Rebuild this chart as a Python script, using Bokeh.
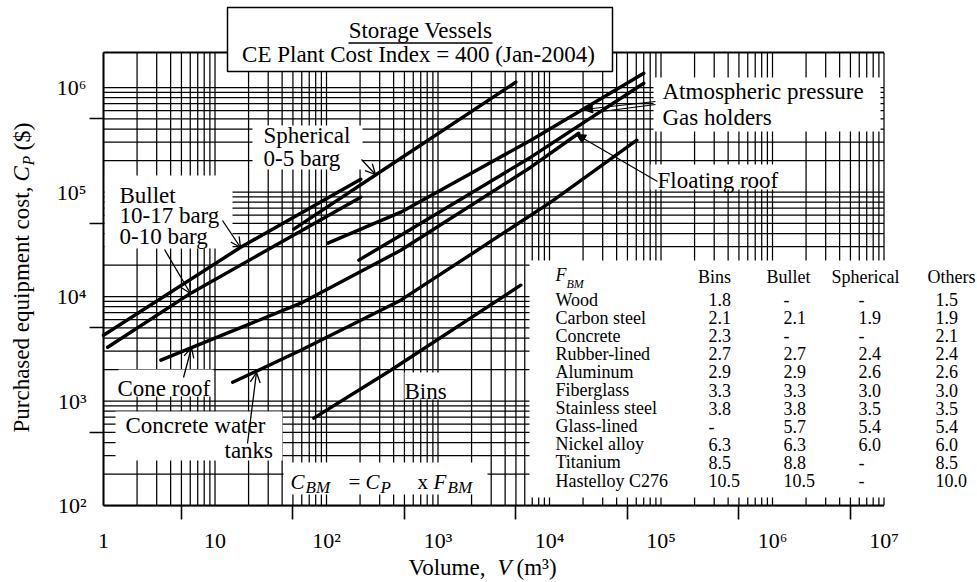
import math
from bokeh.plotting import figure
from bokeh.models import (Range1d, FixedTicker, CustomJSTickFormatter,
                          Arrow, OpenHead, NormalHead)
from bokeh.core.properties import value
from bokeh.embed import file_html
from bokeh.resources import INLINE

SERIF = "Liberation Serif"

# ---------------- cost curves: volume V (m3) -> purchased cost Cp ($) ----------------
bullet_10_17_volume = [1.0, 17.0, 203.0]
bullet_10_17_cost = [4260, 29600, 132600]

bullet_0_10_volume = [1.09, 6.07, 203.0]
bullet_0_10_cost = [3270, 10760, 89200]

spherical_volume = [50.9, 464, 4990]
spherical_cost = [44100, 210500, 1124000]

atmospheric_volume = [103, 464, 6800, 70100]
atmospheric_cost = [32400, 64100, 313000, 1370000]

gas_holder_volume = [195, 464, 6800, 70100]
gas_holder_cost = [22300, 38600, 215300, 1099000]

cone_roof_volume = [3.27, 58.8, 464, 6800, 18300]
cone_roof_cost = [2460, 8630, 27700, 172700, 365000]

concrete_tank_volume = [14.4, 58.8, 464, 10270, 60700]
concrete_tank_cost = [1510, 3060, 9220, 79900, 313000]

bins_volume = [76.9, 377, 5530]
bins_cost = [685, 1970, 12830]

# ---------------- bare-module factors F_BM ----------------
fbm_columns = ["Bins", "Bullet", "Spherical", "Others"]
materials = ["Wood", "Carbon steel", "Concrete", "Rubber-lined", "Aluminum",
             "Fiberglass", "Stainless steel", "Glass-lined", "Nickel alloy",
             "Titanium", "Hastelloy C276"]
fbm_bins = [1.8, 2.1, 2.3, 2.7, 2.9, 3.3, 3.8, None, 6.3, 8.5, 10.5]
fbm_bullet = [None, 2.1, None, 2.7, 2.9, 3.3, 3.8, 5.7, 6.3, 8.8, 10.5]
fbm_spherical = [None, 1.9, None, 2.4, 2.6, 3.0, 3.5, 5.4, 6.0, None, None]
fbm_others = [1.5, 1.9, 2.1, 2.4, 2.6, 3.0, 3.5, 5.4, 6.0, 8.5, 10.0]

# axis decades
x_decades = list(range(0, 8))   # 1 .. 1e7 m3
y_decades = list(range(2, 7))   # 1e2 .. 1e6 $

# ---------------- page layout ----------------
W, H = 977, 582
X0, DX = 103.0, 111.5      # canvas column of V = 1, pixels per decade
Y0, DY = 505.0, 104.5      # canvas row of Cp = 100, pixels per decade


def vx(px):
    """canvas column -> volume value"""
    return 10 ** ((px - X0) / DX)


def vy(py):
    """canvas row -> cost value"""
    return 10 ** (2 + (Y0 - py) / DY)


# the frame fills the whole page; axes are pinned at V = 1 and Cp = 100
p = figure(width=W, height=H, x_axis_type="log", y_axis_type="log",
           x_range=Range1d(vx(0), vx(W)), y_range=Range1d(vy(H), vy(0)),
           output_backend="svg", toolbar_location=None, title=None,
           min_border=0, min_border_left=0, min_border_right=0,
           min_border_top=0, min_border_bottom=0)
p.outline_line_color = None
p.background_fill_color = "white"
p.border_fill_color = "white"
p.xgrid.visible = False
p.ygrid.visible = False

x_min, x_max = 10 ** x_decades[0], 10 ** x_decades[-1]
y_min, y_max = 10 ** y_decades[0], 10 ** y_decades[-1]
y_top = vy(52)

# ---------------- log-paper grid ----------------
v_lines = [k * 10 ** n for n in x_decades[:-1] for k in range(1, 10)] + [x_max]
h_lines = [k * 10 ** n for n in y_decades[:-1] for k in range(1, 10)] + [y_max]
grid_style = dict(line_color="black", line_width=1.25)
p.multi_line(xs=[[v, v] for v in v_lines], ys=[[y_min, y_top]] * len(v_lines), **grid_style)
p.multi_line(xs=[[x_min, x_max]] * len(h_lines), ys=[[h, h] for h in h_lines], **grid_style)

# white patches behind the annotations (x0, x1, y0, y1 on the canvas)
patches = [
    (252, 362, 125, 169),   # Spherical 0-5 barg
    (104, 232, 175, 248),   # Bullet
    (653, 880, 77, 131),    # Atmospheric pressure / Gas holders
    (650, 787, 164, 189),   # Floating roof
    (529, 977, 260, 497),   # F_BM table
    (118, 213, 369, 396),   # Cone roof
    (115, 282, 411, 460),   # Concrete water tanks
    (283, 487, 462, 494),   # C_BM formula
    (404, 446, 372, 399),   # Bins
]
p.quad(left=[vx(a) for a, b, c, d in patches], right=[vx(b) for a, b, c, d in patches],
       top=[vy(c) for a, b, c, d in patches], bottom=[vy(d) for a, b, c, d in patches],
       fill_color="white", line_color=None)

# frame edges
p.multi_line(xs=[[x_min, x_max], [x_min, x_min], [x_min, x_max]],
             ys=[[y_min, y_min], [y_min, y_top], [y_top, y_top]],
             line_color="black", line_width=1.9)

# ---------------- curves ----------------
curve_style = dict(line_color="black", line_width=3.4, line_cap="round")
for vol, cost in [(bullet_10_17_volume, bullet_10_17_cost),
                  (bullet_0_10_volume, bullet_0_10_cost),
                  (spherical_volume, spherical_cost),
                  (atmospheric_volume, atmospheric_cost),
                  (gas_holder_volume, gas_holder_cost),
                  (cone_roof_volume, cone_roof_cost),
                  (concrete_tank_volume, concrete_tank_cost),
                  (bins_volume, bins_cost)]:
    p.line(vol, cost, **curve_style)

# ---------------- title box ----------------
p.quad(left=[vx(227)], right=[vx(612)], top=[vy(7)], bottom=[vy(71)],
       fill_color="white", line_color="black", line_width=1.5)


def put(text, px, py, size=23, style="normal", align="left", angle=0.0):
    """text centred vertically on canvas row py"""
    p.text(x=[vx(px)], y=[vy(py)], text=[text], angle=angle, text_font=value(SERIF),
           text_font_size=f"{size}px", text_font_style=style, text_align=align,
           text_baseline="middle", text_color="black")


put("Storage Vessels", 420, 30, align="center")
p.segment(x0=[vx(348)], x1=[vx(492)], y0=[vy(42.5)], y1=[vy(42.5)],
          line_color="black", line_width=1.3)
put("CE Plant Cost Index = 400 (Jan-2004)", 418, 54, align="center")

# ---------------- curve labels ----------------
put("Spherical", 263, 135)
put("0-5 barg", 263, 158)
put("Bullet", 119, 195)
put("10-17 barg", 119, 215)
put("0-10 barg", 119, 236)
put("Atmospheric pressure", 662, 91)
put("Gas holders", 662, 117)
put("Floating roof", 657, 180)
put("Cone roof", 117, 388)
put("Concrete water", 125, 425)
put("tanks", 224, 450)
put("Bins", 404, 391)

# C_BM = C_P x F_BM
put("C", 290, 481, size=21, style="italic")
put("BM", 305, 487, size=17, style="italic")
put("=", 348, 481, size=21)
put("C", 365, 481, size=21, style="italic")
put("P", 380, 487, size=17, style="italic")
put("x", 417, 481, size=21)
put("F", 433, 481, size=21, style="italic")
put("BM", 447, 487, size=17, style="italic")

# ---------------- pointers ----------------
open_ptrs = [((361, 159), (375, 174)), ((222, 220), (240, 247)), ((164, 249), (190, 293)),
             ((183, 377), (191, 347)), ((247, 443), (256, 372))]
for (xa, ya), (xb, yb) in open_ptrs:
    p.add_layout(Arrow(end=OpenHead(size=10, line_width=1.3, line_color="black"),
                       x_start=vx(xa), y_start=vy(ya), x_end=vx(xb), y_end=vy(yb),
                       line_width=1.3, line_color="black"))
solid_ptrs = [((655, 101), (583, 109)), ((657, 181), (576, 134))]
for (xa, ya), (xb, yb) in solid_ptrs:
    p.add_layout(Arrow(end=NormalHead(size=9, line_width=1, fill_color="black"),
                       x_start=vx(xa), y_start=vy(ya), x_end=vx(xb), y_end=vy(yb),
                       line_width=1.2, line_color="black"))
p.segment(x0=[vx(655)], y0=[vy(104)], x1=[vx(601)], y1=[vy(111)],
          line_color="black", line_width=1.2)

# ---------------- F_BM table ----------------
row_y = [299 + 18.1 * i for i in range(len(materials))]
put("F", 555, 274, size=18, style="italic")
put("BM", 566, 283, size=12, style="italic")
for name, cx in zip(fbm_columns, [714, 788, 865, 951]):
    put(name, cx, 276, size=18, align="center")


def fmt(v):
    return "-" if v is None else f"{v:.1f}"


table_cols = [(materials, 555, str), (fbm_bins, 708, fmt), (fbm_bullet, 783, fmt),
              (fbm_spherical, 858, fmt), (fbm_others, 935, fmt)]
for col, left, f in table_cols:
    p.text(x=[vx(left)] * len(col), y=[vy(r) for r in row_y], text=[f(v) for v in col],
           text_font=value(SERIF), text_font_size="18px", text_baseline="middle",
           text_align="left", text_color="black")

# ---------------- axes ----------------
sup_fmt = CustomJSTickFormatter(code="""
    const sup = ["\\u2070", "\\u00b9", "\\u00b2", "\\u00b3", "\\u2074", "\\u2075", "\\u2076", "\\u2077"];
    const e = Math.round(Math.log10(tick));
    if (e === 0) return "1";
    if (e === 1) return "10";
    return "10" + sup[e];
""")
xa = p.xaxis[0]
xa.ticker = FixedTicker(ticks=[10 ** n for n in x_decades],
                        minor_ticks=[5 * 10 ** n for n in x_decades[:-1]])
xa.fixed_location = y_min
ya = p.yaxis[0]
ya.ticker = FixedTicker(ticks=[10 ** n for n in y_decades],
                        minor_ticks=[5 * 10 ** n for n in y_decades[:-1]])
ya.fixed_location = x_min
for ax in (xa, ya):
    ax.formatter = sup_fmt
    ax.axis_line_color = None
    ax.major_tick_out = 0
    ax.major_tick_in = 0
    ax.minor_tick_out = 14
    ax.minor_tick_in = 0
    ax.minor_tick_line_width = 1.6
    ax.minor_tick_line_color = "black"
    ax.major_label_text_font = SERIF
    ax.major_label_text_font_size = "22px"
    ax.major_label_text_color = "black"
xa.major_label_standoff = 8
ya.major_label_standoff = 3

# axis titles
up = math.pi / 2
put("Purchased equipment cost,", 21, 432, size=23, angle=up)
put("C", 21, 181, size=23, style="italic", angle=up)
put("P", 28, 165, size=16, style="italic", angle=up)
put("($)", 21, 150, size=24, angle=up)
put("Volume,", 408, 567, size=23)
put("V", 497, 567, size=23, style="italic")
put("(m\u00b3)", 516, 567, size=23)

open("out.html", "w", encoding="utf-8").write(file_html(p, INLINE))
